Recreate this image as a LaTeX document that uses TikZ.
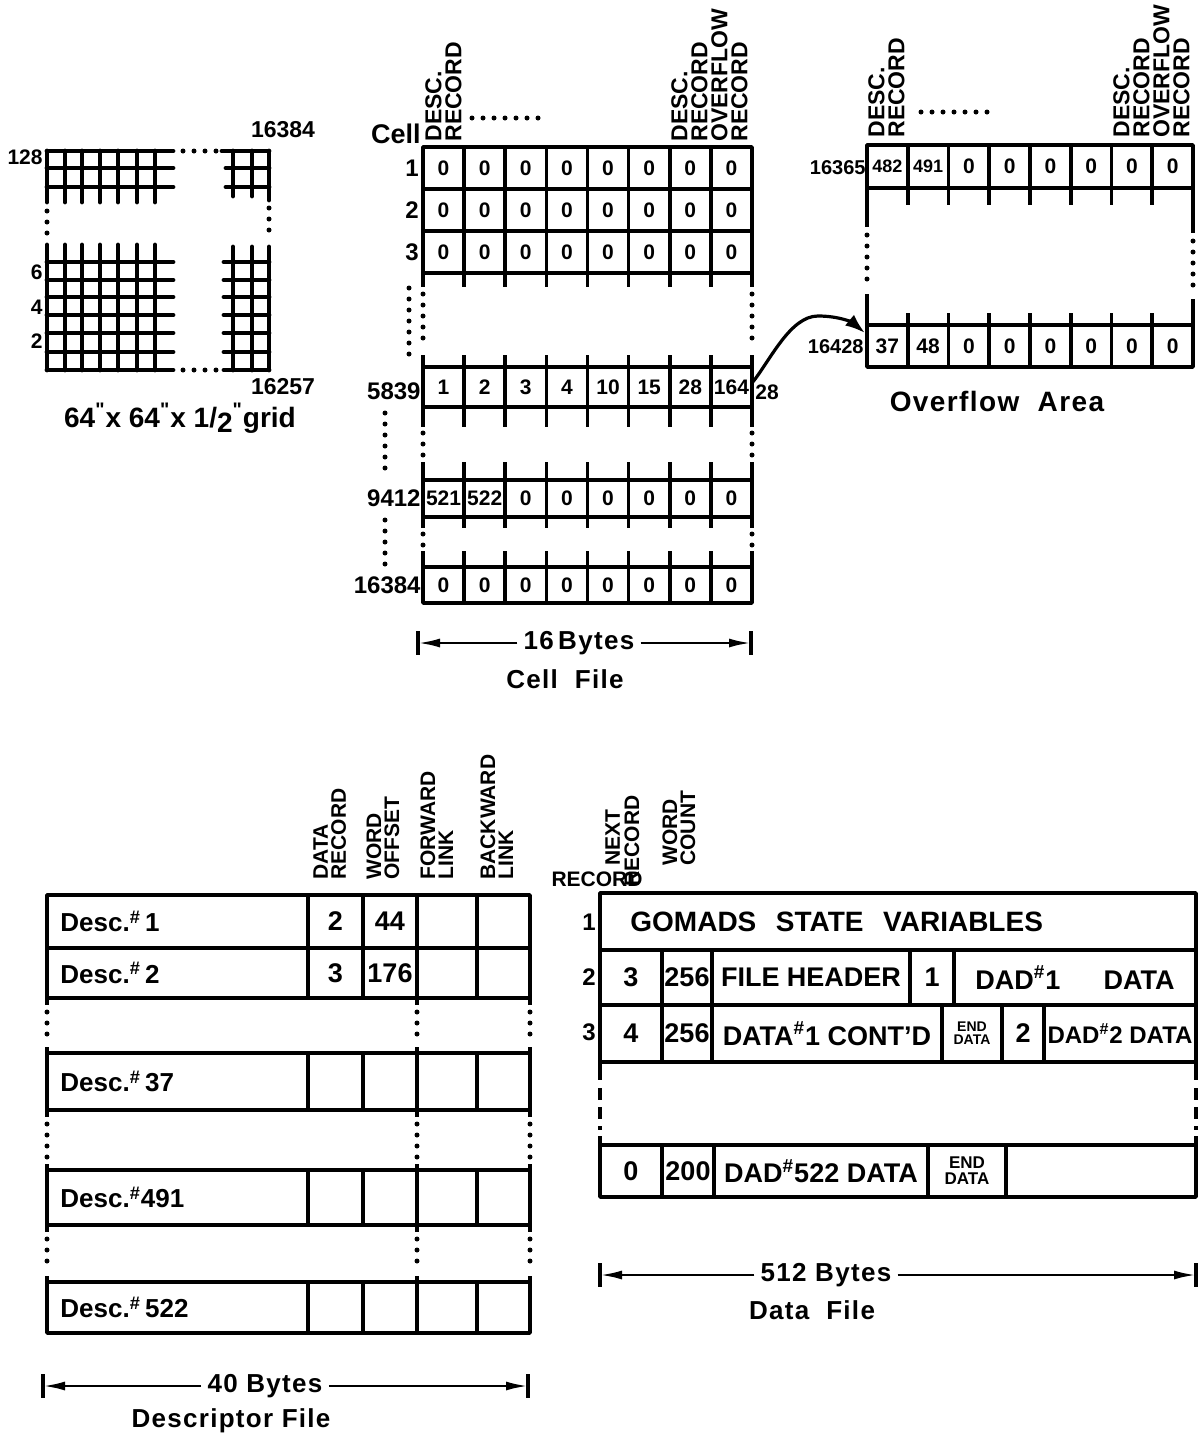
\documentclass[tikz,border=0pt]{standalone}
\usepackage{fontspec}
\setmainfont{Liberation Sans}
\newfontfamily\capfont[LetterSpace=5]{Liberation Sans}
\usetikzlibrary{arrows.meta,calc}
\tikzset{
  tblline/.style={line width=1.8pt},
  gridl/.style={line width=2.4pt, line cap=round},
  dotl/.style={line width=2.5pt, line cap=round, dash pattern=on 0pt off 5.5pt},
  dashl/.style={line width=1.8pt, dash pattern=on 6pt off 3.5pt},
  cellbox/.style={draw, line width=1.8pt, inner sep=0pt, outer sep=0pt, anchor=north west},
  num/.style={font=\bfseries\fontsize{10.5}{10.5}\selectfont},
  bignum/.style={font=\bfseries\fontsize{13.5}{13.5}\selectfont},
  vlab/.style={rotate=90, anchor=north west, align=left, inner sep=0pt, font=\bfseries\fontsize{11.5}{10}\selectfont},
  dlab/.style={rotate=90, anchor=north west, align=left, inner sep=0pt, font=\bfseries\fontsize{10.5}{9}\selectfont},
  rowlab/.style={anchor=east, inner sep=0pt, font=\bfseries\fontsize{12}{12}\selectfont},
  capt/.style={inner sep=3pt, font=\capfont\bfseries\fontsize{13}{13}\selectfont},
  dtext/.style={inner sep=0pt, font=\bfseries\fontsize{13}{13}\selectfont},
  enddata/.style={inner sep=0pt, align=center, font=\bfseries\fontsize{7}{6.5}\selectfont},
  dimarrow/.style={line width=1.3pt, -{Latex[length=11pt,width=4.5pt]}},
  dimbar/.style={line width=1.6pt},
  linkarrow/.style={line width=1.6pt, -{Latex[length=10pt,width=7pt]}},
}
\newcommand\cellrow[6]{%
  \foreach \vv [count=\ii] in {#6} {%
    \node[cellbox, num, minimum width=#4*0.5pt, minimum height=#5*0.5pt] (#1\ii) at ({#2+(\ii-1)*#4},#3) {\vv};
  }}
\newcommand\vcell[6]{%
  \node[cellbox, bignum, minimum width=(#3-#2)*0.5pt, minimum height=#5*0.5pt] (#1) at (#2,#4) {#6};}
\newcommand\descrow[6]{%
  \vcell{#1a}{47}{308}{#2}{#3}{}
  \vcell{#1b}{308}{363}{#2}{#3}{#5}
  \vcell{#1c}{363}{417}{#2}{#3}{#6}
  \vcell{#1d}{417}{477}{#2}{#3}{}
  \vcell{#1e}{477}{530}{#2}{#3}{}
  \node[dtext, anchor=west] (#1t) at ([xshift=6.5pt]#1a.west) {#4};}
\begin{document}
\begin{tikzpicture}[x=0.5pt,y=-0.5pt,line join=round]
\useasboundingbox (0,0) rectangle (1204,1436);

% ---------------- grid ----------------
\foreach \yy in {151,168,187} \draw[gridl] (47,\yy) -- (173,\yy);
\foreach \xx in {47,65,82,100,118,137,155} \draw[gridl] (\xx,151) -- (\xx,202);
\draw[dotl] (183,151) -- (219,151);
\draw[gridl] (222,151) -- (269,151);
\foreach \yy in {168,187} \draw[gridl] (226,\yy) -- (269,\yy);
\foreach \xx in {233,252} \draw[gridl] (\xx,151) -- (\xx,196);
\draw[gridl] (269,151) -- (269,200);
\draw[dotl] (47,211) -- (47,234);
\draw[dotl] (269,208) -- (269,238);
\foreach \yy in {262,280,297,315,333,352,370} \draw[gridl] (47,\yy) -- (173,\yy);
\foreach \xx in {47,65,82,100,118,137,155} \draw[gridl] (\xx,245) -- (\xx,370);
\draw[dotl] (183,370) -- (219,370);
\foreach \yy in {262,280,297,315,333,352,370} \draw[gridl] (224,\yy) -- (269,\yy);
\foreach \xx in {233,252,269} \draw[gridl] (\xx,247) -- (\xx,370);
\node[rowlab, font=\bfseries\fontsize{10.5}{10.5}\selectfont] (g128) at (43,157) {128};
\node[rowlab, font=\bfseries\fontsize{10.5}{10.5}\selectfont] (g6) at (43,272) {6};
\node[rowlab, font=\bfseries\fontsize{10.5}{10.5}\selectfont] (g4) at (43,307) {4};
\node[rowlab, font=\bfseries\fontsize{10.5}{10.5}\selectfont] (g2) at (43,341) {2};
\node[inner sep=0pt, font=\bfseries\fontsize{11.5}{11.5}\selectfont] (g16384) at (283,130) {16384};
\node[inner sep=0pt, font=\bfseries\fontsize{11.5}{11.5}\selectfont] (g16257) at (283,387) {16257};
\node[inner sep=0pt, font=\bfseries\fontsize{14}{14}\selectfont] (gcap) at (180,418)
  {64\textsuperscript{\textquotedbl}x 64\textsuperscript{\textquotedbl}x 1/\raisebox{-0.35ex}{2}\textsuperscript{\textquotedbl}grid};

% ---------------- cell file ----------------
\node[rowlab, font=\bfseries\fontsize{13.5}{13.5}\selectfont] (celllab) at (421,134) {Cell};
\node[vlab] (cfh1) at (425,142) {DESC.\\RECORD};
\draw[dotl] (472,118) -- (542,118);
\node[vlab] (cfh2) at (671,142) {DESC.\\RECORD\\OVERFLOW\\RECORD};

\cellrow{cfA}{423}{147}{41.125}{42}{0,0,0,0,0,0,0,0}
\cellrow{cfB}{423}{189}{41.125}{42}{0,0,0,0,0,0,0,0}
\cellrow{cfC}{423}{231}{41.125}{42}{0,0,0,0,0,0,0,0}
\cellrow{cfD}{423}{367}{41.125}{40}{1,2,3,4,10,15,28,164}
\cellrow{cfE}{423}{480}{41.125}{37}{521,522,0,0,0,0,0,0}
\cellrow{cfF}{423}{567}{41.125}{36}{0,0,0,0,0,0,0,0}

\foreach \k in {0,...,8} {
  \pgfmathsetmacro\xx{423+\k*41.125}
  \draw[tblline] (\xx,273) -- (\xx,287);
  \draw[tblline] (\xx,355) -- (\xx,367);
  \draw[tblline] (\xx,407) -- (\xx,427);
  \draw[tblline] (\xx,462) -- (\xx,480);
  \draw[tblline] (\xx,517) -- (\xx,528);
  \draw[tblline] (\xx,551) -- (\xx,567);
}
\foreach \xx in {423,752} {
  \draw[dotl] (\xx,294) -- (\xx,346);
  \draw[dotl] (\xx,433) -- (\xx,456);
  \draw[dotl] (\xx,534) -- (\xx,546);
}
\draw[dotl] (409,288) -- (409,362);
\draw[dotl] (385,413) -- (385,478);
\draw[dotl] (385,520) -- (385,570);

\node[rowlab] (cl1) at (419,168) {1};
\node[rowlab] (cl2) at (419,210) {2};
\node[rowlab] (cl3) at (419,252) {3};
\node[rowlab] (cl5839) at (421,391) {5839};
\node[rowlab] (cl9412) at (421,498) {9412};
\node[rowlab] (cl16384) at (421,585) {16384};
\node[num, anchor=west, inner sep=0pt] (cf28) at (755,392) {28};

\node[capt] (dim16) at (579,643) {16\,Bytes};
\coordinate (d16L) at (418,643);
\coordinate (d16R) at (751,643);
\draw[dimbar] (418,631) -- (418,655);
\draw[dimbar] (751,631) -- (751,655);
\draw[dimarrow] (dim16.west) -- (d16L);
\draw[dimarrow] (dim16.east) -- (d16R);
\node[capt] (cellfile) at (565,679) {Cell\ \ File};

% ---------------- overflow area ----------------
\node[vlab] (ovh1) at (868,138) {DESC.\\RECORD};
\draw[dotl] (921,112) -- (990,112);
\node[vlab] (ovh2) at (1113,138) {DESC.\\RECORD\\OVERFLOW\\RECORD};
\cellrow{ovA}{867}{145}{40.75}{43}{{\fontsize{9}{9}\selectfont 482},{\fontsize{9}{9}\selectfont 491},0,0,0,0,0,0}
\cellrow{ovB}{867}{325}{40.75}{42}{37,48,0,0,0,0,0,0}
\foreach \k in {1,...,7} {
  \pgfmathsetmacro\xx{867+\k*40.75}
  \draw[tblline] (\xx,188) -- (\xx,205);
  \draw[tblline] (\xx,313) -- (\xx,325);
}
\draw[tblline] (867,188) -- (867,227);
\draw[tblline] (1193,188) -- (1193,233);
\draw[dotl] (867,235) -- (867,287);
\draw[dotl] (1193,241) -- (1193,292);
\draw[tblline] (867,294) -- (867,325);
\draw[tblline] (1193,299) -- (1193,325);
\node[rowlab, font=\bfseries\fontsize{10}{10}\selectfont] (ol16365) at (866,168) {16365};
\node[rowlab, font=\bfseries\fontsize{10}{10}\selectfont] (ol16428) at (864,347) {16428};
\node[capt, font=\capfont\bfseries\fontsize{14}{14}\selectfont] (ovcap) at (997,401) {Overflow\ \ Area};

\coordinate (arrpeak) at (818,316);
\coordinate (arrend) at ($(ovB1.north west)+(-2,8)$);
\draw[linkarrow] ([yshift=2pt]cfD8.east) .. controls +(18,-22) and +(-28,0) .. (arrpeak)
   .. controls +(22,0) and +(-12,-10) .. (arrend);

% ---------------- descriptor file ----------------
\node[dlab] (dh1) at (313,880) {DATA\\RECORD};
\node[dlab] (dh2) at (366,880) {WORD\\OFFSET};
\node[dlab] (dh3) at (420,880) {FORWARD\\LINK};
\node[dlab] (dh4) at (480,880) {BACKWARD\\LINK};
\descrow{dA}{895}{53}{Desc.\textsuperscript{\#}\,1}{2}{44}
\descrow{dB}{948}{50}{Desc.\textsuperscript{\#}\,2}{3}{176}
\descrow{dC}{1053}{57}{Desc.\textsuperscript{\#}\,37}{}{}
\descrow{dD}{1170}{55}{Desc.\textsuperscript{\#}491}{}{}
\descrow{dE}{1282}{51}{Desc.\textsuperscript{\#}\,522}{}{}
\foreach \ya/\yb in {998/1053,1110/1170,1225/1282} {
  \foreach \xx in {47,417,530} {
    \draw[tblline] (\xx,\ya) -- (\xx,\ya+7);
    \draw[dotl] (\xx,\ya+14) -- (\xx,\yb-12);
    \draw[tblline] (\xx,\yb-6) -- (\xx,\yb);
  }
}
\node[capt] (dim40) at (265,1386) {40 Bytes};
\coordinate (d40L) at (43,1386);
\coordinate (d40R) at (528,1386);
\draw[dimbar] (43,1374) -- (43,1398);
\draw[dimbar] (528,1374) -- (528,1398);
\draw[dimarrow] (dim40.west) -- (d40L);
\draw[dimarrow] (dim40.east) -- (d40R);
\node[capt] (descfile) at (231,1421) {Descriptor File};

% ---------------- data file ----------------
\node[dlab] (nh1) at (605,866) {NEXT};
\node[dlab] (nh2) at (624,887) {RECORD};
\node[dlab] (wh) at (662,866) {WORD\\COUNT};
\node[inner sep=0pt, font=\bfseries\fontsize{10.5}{10.5}\selectfont] (reclab) at (597,879) {RECORD};

\vcell{r1}{600}{1196}{893}{57}{}
\node[anchor=west, inner sep=0pt, font=\bfseries\fontsize{14}{14}\selectfont] (gomads) at (630,922) {GOMADS\hspace{0.7em}STATE\hspace{0.7em}VARIABLES};
\vcell{r2a}{600}{662}{950}{55}{3}
\vcell{r2b}{662}{712}{950}{55}{256}
\vcell{r2c}{712}{910}{950}{55}{FILE HEADER}
\vcell{r2d}{910}{954}{950}{55}{1}
\vcell{r2e}{954}{1196}{950}{55}{DAD\textsuperscript{\#}1\hspace{1.6em}DATA}
\vcell{r3a}{600}{662}{1005}{57}{4}
\vcell{r3b}{662}{712}{1005}{57}{256}
\vcell{r3c}{712}{942}{1005}{57}{DATA\textsuperscript{\#}1 CONT'D}
\vcell{r3d}{942}{1002}{1005}{57}{}
\vcell{r3e}{1002}{1044}{1005}{57}{2}
\vcell{r3f}{1044}{1196}{1005}{57}{\fontsize{12}{12}\selectfont DAD\textsuperscript{\#}2 DATA}
\node[enddata] (ed1) at (r3d.center) {END\\DATA};
\foreach \xx in {600,1196} {
  \draw[tblline] (\xx,1062) -- (\xx,1080);
  \draw[dashl] (\xx,1088) -- (\xx,1130);
  \draw[tblline] (\xx,1136) -- (\xx,1145);
}
\vcell{r4a}{600}{662}{1145}{52}{0}
\vcell{r4b}{662}{714}{1145}{52}{200}
\vcell{r4c}{714}{928}{1145}{52}{DAD\textsuperscript{\#}522 DATA}
\vcell{r4d}{928}{1006}{1145}{52}{}
\vcell{r4e}{1006}{1196}{1145}{52}{}
\node[enddata, font=\bfseries\fontsize{8.5}{8}\selectfont] (ed2) at (r4d.center) {END\\DATA};
\node[rowlab] (dl1) at (596,922) {1};
\node[rowlab] (dl2) at (596,977) {2};
\node[rowlab] (dl3) at (596,1032) {3};

\node[capt] (dim512) at (826,1275) {512 Bytes};
\coordinate (d512L) at (600,1275);
\coordinate (d512R) at (1196,1275);
\draw[dimbar] (600,1263) -- (600,1287);
\draw[dimbar] (1196,1263) -- (1196,1287);
\draw[dimarrow] (dim512.west) -- (d512L);
\draw[dimarrow] (dim512.east) -- (d512R);
\node[capt] (datafile) at (812,1310) {Data\ \ File};
\end{tikzpicture}
\end{document}
